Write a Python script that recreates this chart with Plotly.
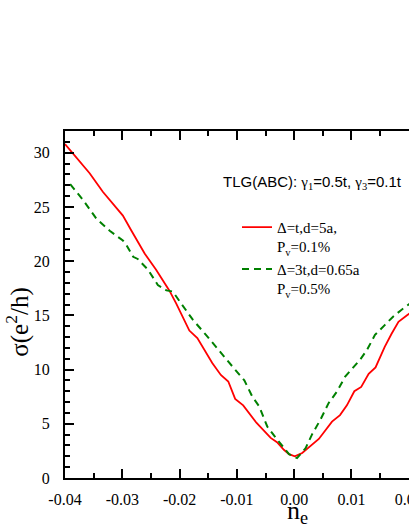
import plotly.graph_objects as go

# ---- data ----
red_x = [-0.0400, -0.0357, -0.0334, -0.0299, -0.0284, -0.0261, -0.0241, -0.0218, -0.0206,
         -0.0183, -0.0169, -0.0143, -0.0128, -0.0115, -0.0103, -0.0089, -0.0066, -0.0041,
         -0.0030, -0.0018, -0.0009, 0.0001, 0.0014, 0.0025, 0.0043, 0.0066, 0.0080, 0.0092,
         0.0105, 0.0117, 0.0130, 0.0142, 0.0158, 0.0170, 0.0182, 0.0197, 0.0205]
red_y = [30.8, 28.1, 26.4, 24.2, 22.8, 20.7, 19.2, 17.3, 16.1,
         13.6, 12.9, 10.6, 9.5, 8.9, 7.3, 6.7, 5.1, 3.7,
         3.3, 2.6, 2.2, 2.0, 2.3, 2.8, 3.6, 5.2, 5.8, 6.7,
         8.0, 8.4, 9.6, 10.2, 12.1, 13.3, 14.4, 15.0, 15.3]

green_x = [-0.0391, -0.0368, -0.0345, -0.0322, -0.0299, -0.0293, -0.0281, -0.0273, -0.0255,
           -0.0238, -0.0223, -0.0212, -0.0200, -0.0177, -0.0154, -0.0131, -0.0108, -0.0087,
           -0.0073, -0.0061, -0.0047, -0.0032, -0.0018, -0.0009, 0.0005, 0.0020, 0.0031,
           0.0046, 0.0060, 0.0075, 0.0089, 0.0101, 0.0115, 0.0127, 0.0141, 0.0158, 0.0173,
           0.0187, 0.0197, 0.0205]
green_y = [27.1, 25.6, 23.9, 22.8, 21.9, 21.5, 20.4, 20.2, 19.2,
           17.8, 17.3, 17.2, 16.3, 14.6, 13.2, 11.8, 10.3, 9.0,
           7.5, 6.6, 4.75, 3.7, 2.76, 2.2, 1.84, 2.76, 4.0,
           5.4, 6.9, 8.0, 9.35, 10.1, 10.9, 11.8, 13.2, 14.1, 14.9,
           15.5, 15.9, 16.2]

red_name = "Δ=t,d=5a,<br>P<sub>v</sub>=0.1%"
green_name = "Δ=3t,d=0.65a<br>P<sub>v</sub>=0.5%"

x_tickvals = [-0.04, -0.03, -0.02, -0.01, 0.00, 0.01, 0.02]
x_ticktext = ["-0.04", "-0.03", "-0.02", "-0.01", "0.00", "0.01", "0.02"]
y_tickvals = [0, 5, 10, 15, 20, 25, 30]

serif = "Liberation Serif"
sans = "Liberation Sans"

fig = go.Figure()
fig.add_trace(go.Scatter(x=red_x, y=red_y, mode="lines", name=red_name,
                         line=dict(color="#ff0000", width=1.8)))
fig.add_trace(go.Scatter(x=green_x, y=green_y, mode="lines", name=green_name,
                         line=dict(color="#008000", width=2, dash="7px,5px")))

fig.update_layout(
    width=409, height=529,
    margin=dict(l=65, r=0, t=131, b=51, autoexpand=False),
    paper_bgcolor="white", plot_bgcolor="white",
    font=dict(family=serif, size=16, color="black"),
    showlegend=True,
    legend=dict(x=0.5, y=0.77, xanchor="left", yanchor="top",
                font=dict(family=serif, size=15, color="black"),
                bgcolor="rgba(0,0,0,0)", valign="top", tracegroupgap=0),
    xaxis=dict(range=[-0.04, 0.02004], showgrid=False, zeroline=False,
               showline=True, linecolor="black", linewidth=2, mirror="ticks",
               ticks="inside", ticklen=9, tickwidth=2, tickcolor="black",
               tickvals=x_tickvals, ticktext=x_ticktext, automargin=False,
               ticklabelstandoff=6, ticklabeloverflow="allow",
               tickfont=dict(family=serif, size=16, color="black"),
               minor=dict(dtick=0.005, ticks="inside", ticklen=5, tickwidth=1.5,
                          tickcolor="black", showgrid=False)),
    yaxis=dict(range=[0, 32], showgrid=False, zeroline=False,
               showline=True, linecolor="black", linewidth=2, mirror=False,
               ticks="inside", ticklen=9, tickwidth=2, tickcolor="black",
               tickvals=y_tickvals, automargin=False,
               ticklabelstandoff=10,
               tickfont=dict(family=serif, size=16, color="black"),
               minor=dict(dtick=1, ticks="inside", ticklen=5, tickwidth=1.5,
                          tickcolor="black", showgrid=False)),
    annotations=[
        dict(text="TLG(ABC): <span style='font-family:Liberation Serif'>γ<sub>1</sub></span>=0.5t, "
                  "<span style='font-family:Liberation Serif'>γ<sub>3</sub></span>=0.1t",
             xref="paper", yref="paper", x=0.985, y=0.853, xanchor="right", yanchor="middle",
             showarrow=False, font=dict(family=sans, size=15, color="black")),
        dict(text="σ(e<sup>2</sup>/h)", textangle=-90,
             xref="paper", yref="paper", x=-0.137, y=0.45, xanchor="center", yanchor="middle",
             showarrow=False, font=dict(family=serif, size=25, color="black")),
        dict(text="n<sub>e</sub>",
             xref="paper", yref="paper", x=0.676, y=-0.045, xanchor="center", yanchor="top",
             showarrow=False, font=dict(family=serif, size=26, color="black")),
    ],
)

fig.write_html("out.html", config={"displayModeBar": False},
               post_script="document.body.style.margin='0';document.body.style.overflow='hidden';")
